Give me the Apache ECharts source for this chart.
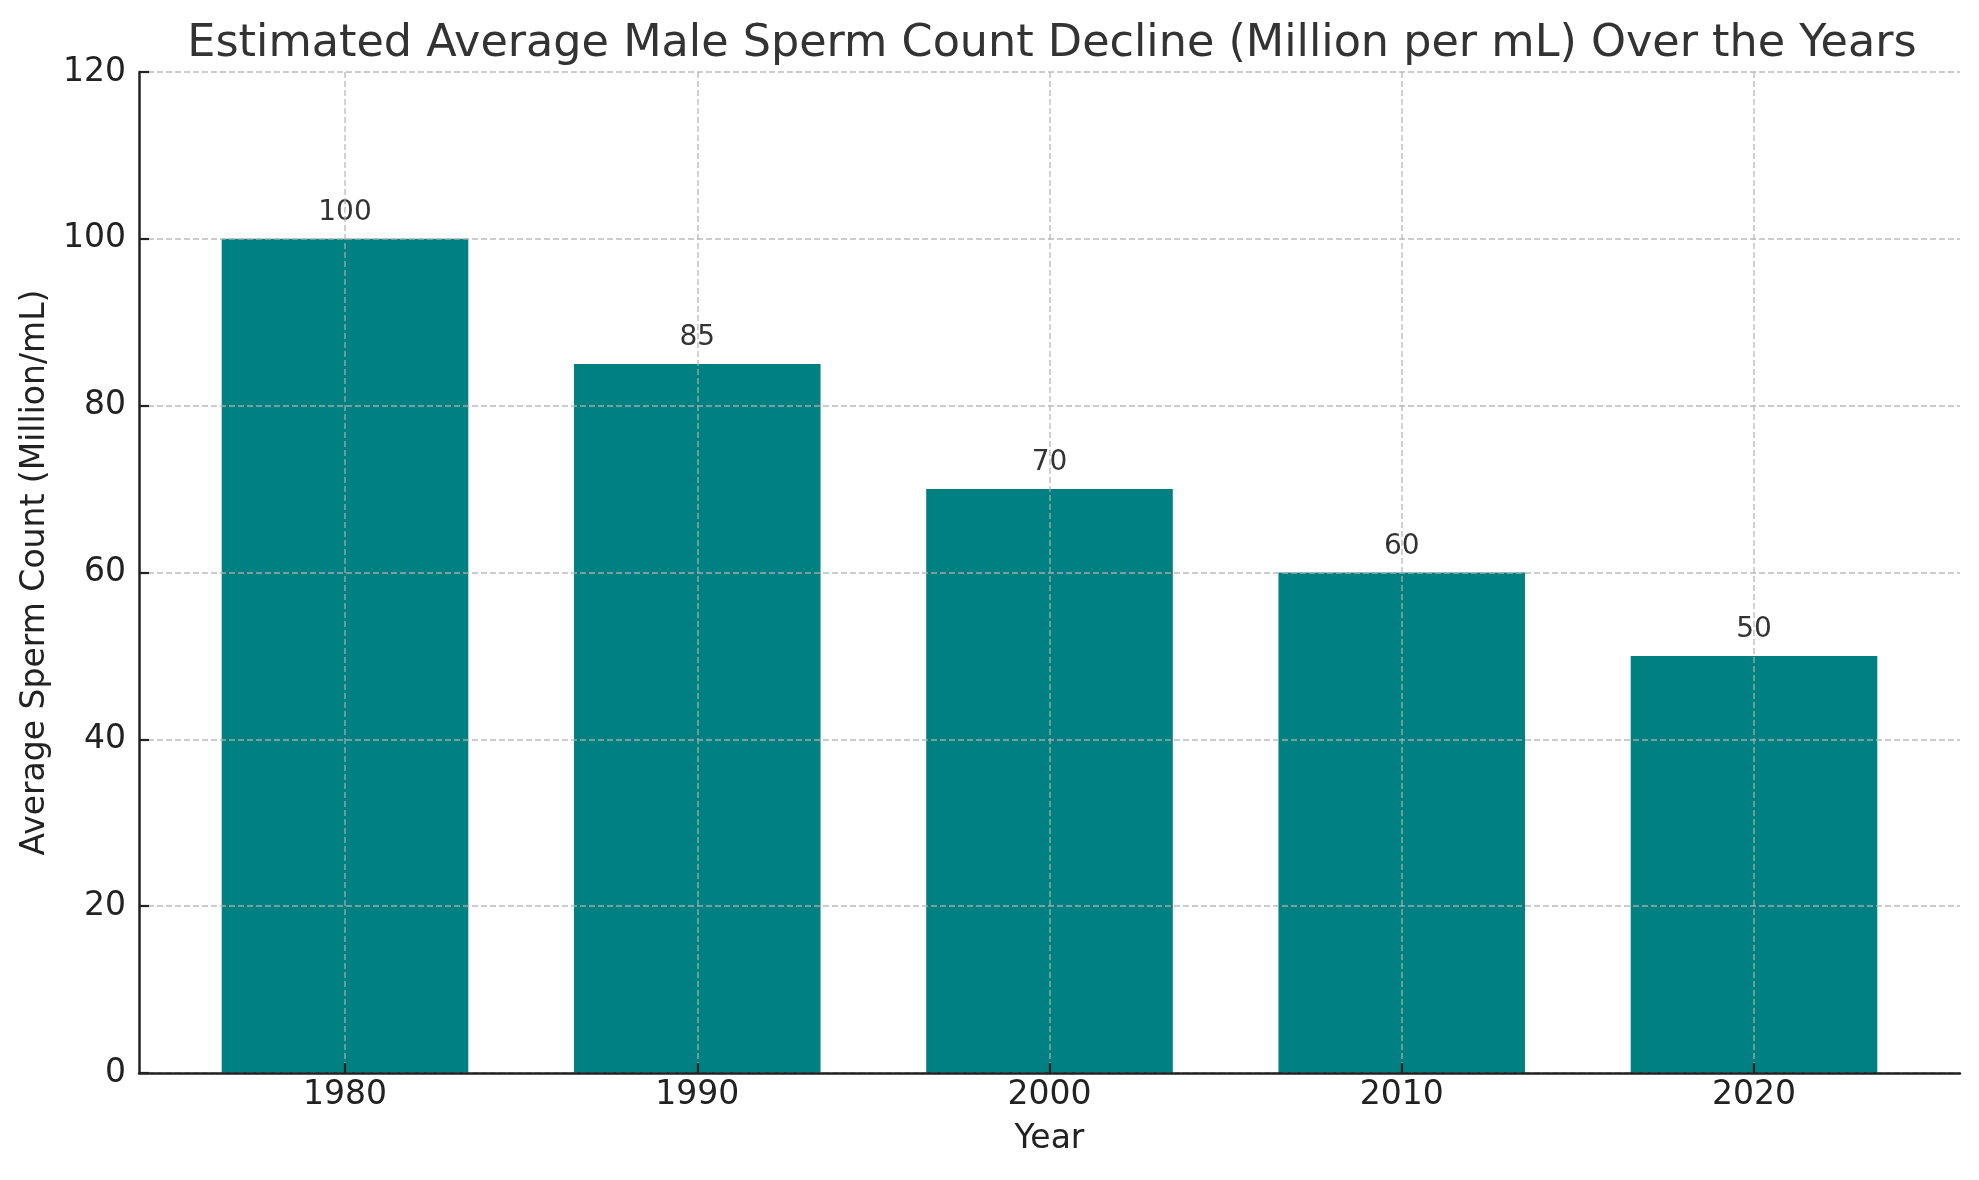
<!DOCTYPE html>
<html>
<head>
<meta charset="utf-8">
<script src="https://cdn.jsdelivr.net/npm/echarts@6/dist/echarts.min.js"></script>
<style>
html,body{margin:0;padding:0;background:#fff;}
#chart{width:1979px;height:1180px;}
</style>
</head>
<body>
<div id="chart"></div>
<script>
const years = ['1980', '1990', '2000', '2010', '2020'];
const spermCounts = [100, 85, 70, 60, 50];
const yTicks = [0, 20, 40, 60, 80, 100, 120];

const FONT = 'DejaVu Sans';
const gridLine = { show: true, lineStyle: { color: 'rgba(176,176,176,0.65)', width: 1.8, type: [6, 3] } };

const chart = echarts.init(document.getElementById('chart'), null, { renderer: 'canvas' });
chart.setOption({
  backgroundColor: '#ffffff',
  animation: false,
  title: {
    text: 'Estimated Average Male Sperm Count Decline (Million per mL) Over the Years',
    left: 1047, top: 17, textAlign: 'center',
    textStyle: { fontFamily: FONT, fontSize: 44.5, fontWeight: 'normal', color: '#333333' }
  },
  grid: [
    { left: 139, right: 19, top: 72, bottom: 107 },
    { left: 345, right: 225, top: 72, bottom: 107 }
  ],
  xAxis: [
    {
      gridIndex: 0, type: 'value', min: 0, max: 1, z: 5,
      axisLine: { show: true, lineStyle: { color: '#222222', width: 2.5 } },
      axisTick: { show: false }, axisLabel: { show: false }, splitLine: { show: false }
    },
    {
      gridIndex: 1, type: 'value', min: 0, max: years.length - 1, interval: 1, z: 5,
      name: 'Year', nameLocation: 'middle', nameGap: 50,
      nameTextStyle: { fontFamily: FONT, fontSize: 33, color: '#222222' },
      axisLine: { show: false },
      axisTick: { show: true, inside: true, length: 10, lineStyle: { color: '#222222', width: 2.2 } },
      axisLabel: { show: true, margin: 6, fontFamily: FONT, fontSize: 33, color: '#222222',
        formatter: v => years[v] !== undefined ? years[v] : '' },
      splitLine: gridLine
    }
  ],
  yAxis: [
    {
      gridIndex: 0, type: 'value', min: yTicks[0], max: yTicks[yTicks.length - 1], interval: 20, z: 5,
      name: 'Average Sperm Count (Million/mL)', nameLocation: 'middle', nameGap: 85, nameRotate: 90,
      nameTextStyle: { fontFamily: FONT, fontSize: 33, color: '#222222' },
      axisLine: { show: true, lineStyle: { color: '#222222', width: 2.5 } },
      axisTick: { show: true, inside: true, length: 10, lineStyle: { color: '#222222', width: 2.2 } },
      axisLabel: { margin: 13, fontFamily: FONT, fontSize: 33, color: '#222222' },
      splitLine: gridLine
    },
    {
      gridIndex: 1, type: 'value', min: yTicks[0], max: yTicks[yTicks.length - 1], interval: 20, show: false,
      splitLine: { show: false }
    }
  ],
  series: [{
    type: 'bar',
    xAxisIndex: 1, yAxisIndex: 1,
    clip: false,
    barWidth: 246.6,
    itemStyle: { color: '#008080' },
    label: {
      show: true, position: 'top', distance: 12,
      fontFamily: FONT, fontSize: 28, color: '#333333',
      formatter: p => String(p.value[1])
    },
    data: spermCounts.map((v, i) => [i, v])
  }]
});
</script>
</body>
</html>
